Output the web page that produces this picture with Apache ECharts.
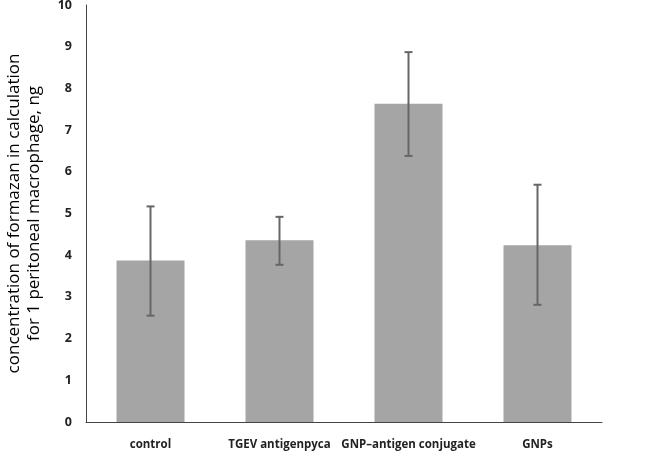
<!DOCTYPE html>
<html><head><meta charset="utf-8">
<script src="https://cdn.jsdelivr.net/npm/echarts@6/dist/echarts.min.js"></script>
<style>html,body{margin:0;padding:0;background:#fff}#c{width:649px;height:453px}</style>
</head><body><div id="c"></div>
<script>
var categories = ['control', 'TGEV antigenpyca', 'GNP\u2013antigen conjugate', 'GNPs'];
var values = [3.87, 4.36, 7.63, 4.24];
var errLow = [2.55, 3.77, 6.38, 2.81];
var errHigh = [5.17, 4.92, 8.87, 5.69];
var yTicks = [0, 1, 2, 3, 4, 5, 6, 7, 8, 9, 10];

var chart = echarts.init(document.getElementById('c'));
var errData = categories.map(function (c, i) { return [i, errLow[i], errHigh[i]]; });
chart.setOption({
  animation: false,
  grid: { left: 86, right: 47, top: 5, bottom: 31, containLabel: false, outerBoundsMode: 'none' },
  xAxis: {
    type: 'category', data: categories,
    axisLine: { lineStyle: { color: '#444', width: 1 } },
    axisTick: { show: false },
    axisLabel: { color: '#222', fontSize: 11.5, fontWeight: 'bold', margin: 17, fontFamily: 'Open Sans', interval: 0 }
  },
  yAxis: {
    type: 'value', min: 0, max: 10, interval: 1,
    axisLine: { show: true, lineStyle: { color: '#444', width: 1 } },
    axisTick: { show: false },
    splitLine: { show: false },
    axisLabel: { color: '#222', fontSize: 12.5, fontWeight: 'bold', margin: 14, fontFamily: 'Open Sans' },
    name: 'concentration of formazan in calculation\nfor 1 peritoneal macrophage, ng',
    nameLocation: 'middle', nameGap: 42,
    nameTextStyle: { fontSize: 17, color: '#000', fontFamily: 'Open Sans', lineHeight: 20 }
  },
  series: [{
    type: 'bar', data: values, barWidth: 68,
    itemStyle: { color: '#a5a5a5' }
  }, {
    type: 'custom', data: errData,
    renderItem: function (params, api) {
      var x = api.value(0);
      var lo = api.coord([x, api.value(1)]);
      var hi = api.coord([x, api.value(2)]);
      var hw = 4;
      var st = { stroke: '#666', lineWidth: 2 };
      return { type: 'group', children: [
        { type: 'line', shape: { x1: lo[0], y1: lo[1], x2: hi[0], y2: hi[1] }, style: st },
        { type: 'line', shape: { x1: lo[0] - hw, y1: lo[1], x2: lo[0] + hw, y2: lo[1] }, style: st },
        { type: 'line', shape: { x1: hi[0] - hw, y1: hi[1], x2: hi[0] + hw, y2: hi[1] }, style: st }
      ]};
    },
    z: 10
  }]
});
</script></body></html>
